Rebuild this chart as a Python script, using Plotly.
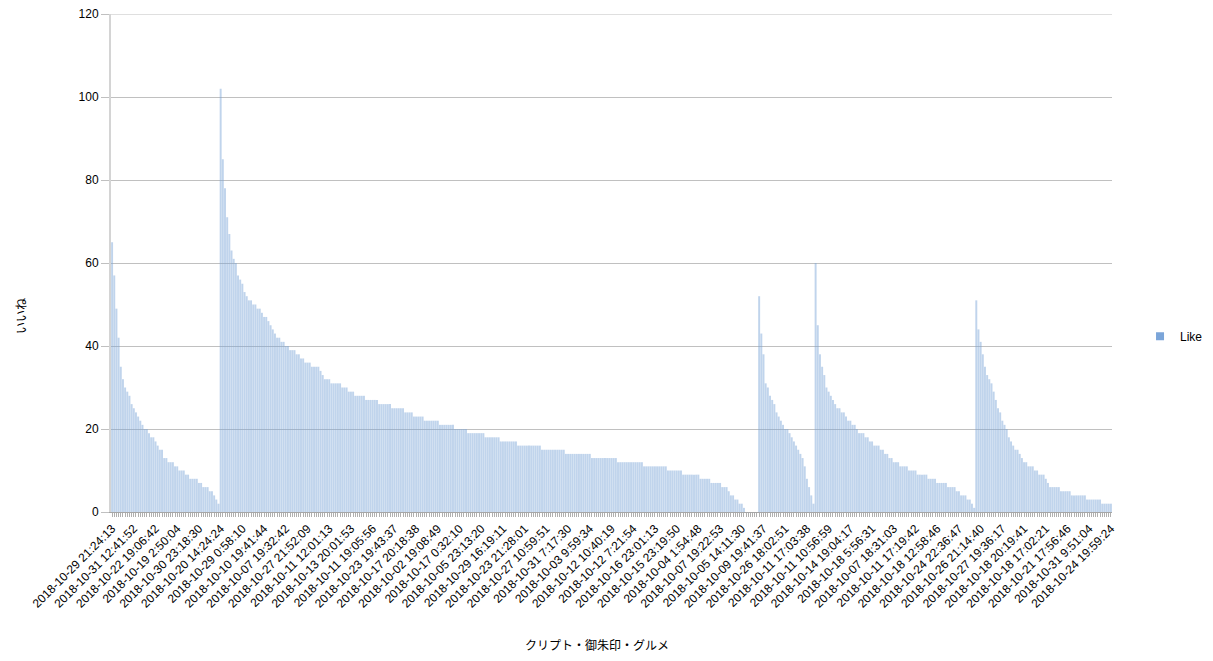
import plotly.graph_objects as go

# ---- data ----
group1 = [65, 57, 49, 42, 35, 32, 30, 29, 28, 26, 25, 24, 23, 22, 21, 20, 20, 19, 18, 18,
          17, 16, 15, 15, 13, 13, 12, 12, 12, 11, 11, 10, 10, 10, 9, 9, 8, 8, 8, 8,
          7, 7, 6, 6, 6, 5, 5, 4, 3, 2]

g2_levels = [102, 85, 78, 71, 67, 63, 61, 60, 57, 56, 55, 53, 52, 51, 50, 49, 48, 47, 46, 45,
             44, 43, 42, 41, 40, 39, 38, 37, 36, 35, 34, 33, 32, 31, 30, 29, 28, 27, 26, 25,
             24, 23, 22, 21, 20, 19, 18, 17, 16, 15, 14, 13, 12, 11, 10, 9, 8, 7, 6, 5,
             4, 3, 2, 1, 0]
g2_counts = [1, 1, 1, 1, 1, 1, 1, 1, 1, 1, 1, 1, 1, 2, 2, 2, 1, 2, 1, 1,
             1, 1, 2, 2, 2, 3, 2, 2, 3, 4, 1, 1, 3, 5, 3, 3, 5, 6, 6, 6,
             4, 5, 7, 7, 6, 8, 7, 8, 11, 11, 12, 12, 12, 11, 7, 8, 5, 5, 3, 1,
             2, 2, 2, 1, 6]

group3 = [52, 43, 38, 31, 30, 28, 27, 26, 24, 23, 22, 21, 20, 20, 19, 18, 17, 16, 15, 14,
          13, 11, 8, 6, 4, 2]

group4 = [60, 45, 38, 35, 33, 30, 29, 28, 27, 26, 25, 25, 24, 24, 23, 22, 22, 21, 21, 20,
          19, 19, 19, 18, 18, 17, 17, 16, 16, 16, 15, 15, 14, 14, 13, 13, 12, 12, 12, 11,
          11, 11, 11, 10, 10, 10, 10, 9, 9, 9, 9, 9, 8, 8, 8, 8, 7, 7, 7, 7,
          7, 6, 6, 6, 6, 5, 5, 4, 4, 4, 3, 3, 2, 1]

group5 = [51, 44, 41, 38, 35, 33, 32, 31, 29, 27, 25, 24, 22, 21, 20, 18, 17, 16, 15, 15,
          14, 13, 12, 12, 11, 11, 11, 10, 10, 9, 9, 9, 8, 7, 6, 6, 6, 6, 6, 5,
          5, 5, 5, 5, 4, 4, 4, 4, 4, 4, 4, 3, 3, 3, 3, 3, 3, 3, 2, 2,
          2, 2, 2]

tick_labels = [
    "2018-10-29 21:24:13", "2018-10-31 12:41:52", "2018-10-22 19:06:42", "2018-10-19 2:50:04",
    "2018-10-30 23:18:30", "2018-10-20 14:24:24", "2018-10-29 0:58:10", "2018-10-10 19:41:44",
    "2018-10-07 19:32:42", "2018-10-27 21:52:09", "2018-10-11 12:01:13", "2018-10-13 20:01:53",
    "2018-10-11 19:05:56", "2018-10-23 19:43:37", "2018-10-17 20:18:38", "2018-10-02 19:08:49",
    "2018-10-17 0:32:10", "2018-10-05 23:13:20", "2018-10-29 16:19:11", "2018-10-23 21:28:01",
    "2018-10-27 10:59:51", "2018-10-31 7:17:30", "2018-10-03 9:59:34", "2018-10-12 10:40:19",
    "2018-10-12 7:21:54", "2018-10-16 23:01:13", "2018-10-15 23:19:50", "2018-10-04 1:54:48",
    "2018-10-07 19:22:53", "2018-10-05 14:11:30", "2018-10-09 19:41:37", "2018-10-26 18:02:51",
    "2018-10-11 17:03:38", "2018-10-11 10:56:59", "2018-10-14 19:04:17", "2018-10-18 5:56:31",
    "2018-10-07 18:31:03", "2018-10-11 17:19:42", "2018-10-18 12:58:46", "2018-10-24 22:36:47",
    "2018-10-26 21:14:40", "2018-10-27 19:36:17", "2018-10-18 20:19:41", "2018-10-18 17:02:21",
    "2018-10-21 17:56:46", "2018-10-31 9:51:04", "2018-10-24 19:59:24",
]
label_step = 10
series_name = "Like"
x_title = "クリプト・御朱印・グルメ"
y_title = "いいね"

# ---- assemble ----
group2 = []
for lv, ct in zip(g2_levels, g2_counts):
    group2.extend([lv] * ct)
values = group1 + group2 + group3 + group4 + group5
xs = list(range(len(values)))

font_fam = "Liberation Sans, Arial, Noto Sans CJK JP, sans-serif"

# page body has an 8px margin; figure is sized to fit inside the 1213x661 window
W, H = 1197, 645
ML, MT, PW, PH = 103, 6, 1001, 498
Y_TOP = 120
GRID = "#c0c0c0"

fig = go.Figure()
fig.add_trace(go.Bar(
    x=xs, y=values, name=series_name, showlegend=False,
    marker=dict(color="rgba(122,164,214,0.47)", line=dict(width=0)),
))
fig.add_trace(go.Scatter(
    x=[None], y=[None], mode="markers", name=series_name,
    marker=dict(symbol="square", size=8, color="#7ba5d9"),
))

fig.update_layout(
    width=W, height=H,
    margin=dict(l=ML, r=W - ML - PW, t=MT, b=H - MT - PH, pad=0, autoexpand=False),
    paper_bgcolor="white", plot_bgcolor="white",
    font=dict(family=font_fam, size=12, color="#000000"),
    bargap=0.1,
    showlegend=True,
    legend=dict(x=1.028, y=0.353, xanchor="left", yanchor="middle",
                font=dict(size=12, color="#000"), bgcolor="rgba(0,0,0,0)",
                itemwidth=30, tracegroupgap=0, borderwidth=0),
    xaxis=dict(
        automargin=False,
        range=[-0.5, len(values) - 0.5],
        tickmode="array",
        tickvals=xs[::label_step],
        ticktext=tick_labels,
        tickangle=-45,
        ticks="outside", ticklen=4, tickcolor="#b0b0b0",
        minor=dict(ticks="outside", dtick=1, tick0=0, ticklen=4, tickcolor="#b0b0b0", showgrid=False),
        showgrid=False, zeroline=False,
        showline=True, linecolor="#a6a6a6", linewidth=1,
        tickfont=dict(size=12, color="#000"),
        ticklabeloverflow="allow",
    ),
    yaxis=dict(
        automargin=False,
        range=[0, Y_TOP], dtick=20, tick0=0,
        showgrid=True, gridcolor=GRID, gridwidth=1,
        zeroline=False,
        showline=True, linecolor="#d4d4d4", linewidth=2,
        ticks="outside", ticklen=8, tickcolor=GRID,
        tickfont=dict(size=12, color="#000"),
        ticklabeloverflow="allow",
    ),
    shapes=[
        dict(type="line", xref="paper", yref="y", x0=0, x1=1, y0=Y_TOP, y1=Y_TOP,
             line=dict(color=GRID, width=1), layer="below"),
    ],
    annotations=[
        dict(text=y_title, xref="paper", yref="paper",
             x=(22 - 111) / PW, y=(512 - 316) / PH, xanchor="center", yanchor="middle",
             textangle=-90, showarrow=False, font=dict(size=12, color="#000")),
        dict(text=x_title, xref="paper", yref="paper",
             x=(597 - 111) / PW, y=(512 - 645) / PH, xanchor="center", yanchor="middle",
             showarrow=False, font=dict(size=12, color="#000")),
    ],
)

fig.write_html("out.html")
